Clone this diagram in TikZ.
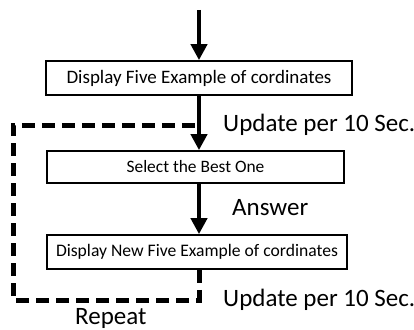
\documentclass[tikz,border=0pt]{standalone}
\usepackage{fontspec}
\setmainfont{Carlito}
\usetikzlibrary{arrows.meta}
\begin{document}
\begin{tikzpicture}[x=1pt,y=-1pt,
  box/.style={draw, line width=1.7pt, inner sep=0pt, anchor=center},
  flow/.style={line width=4.5pt, -{Triangle[length=16pt,width=16pt]}},
  loopline/.style={line width=5pt, dash pattern=on 13pt off 7pt},
  lbl/.style={anchor=base west, font=\fontsize{25}{28}\selectfont, inner sep=0pt}]
\useasboundingbox (0,0) rectangle (414,329);
\coordinate (start) at (199,10);
\node[box, minimum width=306pt, minimum height=34pt, font=\fontsize{19}{22}\selectfont] (b1) at (199,78) {Display Five Example of cordinates};
\node[box, minimum width=297pt, minimum height=32pt, font=\fontsize{17.4}{20}\selectfont] (b2) at (195.5,167) {Select the Best One};
\node[box, minimum width=300pt, minimum height=34pt, font=\fontsize{17.6}{21}\selectfont] (b3) at (197,252) {Display New Five Example of cordinates};
\coordinate (bl) at (13,300);
\coordinate (tl) at (13,125);
\coordinate (br) at (199,300);
\coordinate (tr) at (199,125);
\draw[flow] (start) -- (start |- b1.north);
\draw[flow] (start |- b1.south) -- (start |- b2.north);
\draw[flow] (start |- b2.south) -- (start |- b3.north);
\draw[loopline] (start |- b3.south) -- (br) -- (bl) -- (tl) -- (tr);
\node[lbl] (u1) at (223,131) {Update per 10 Sec.};
\node[lbl] (ans) at (232,215) {Answer};
\node[lbl] (u2) at (223,306) {Update per 10 Sec.};
\node[lbl] (rep) at (75,324) {Repeat};
\end{tikzpicture}
\end{document}
